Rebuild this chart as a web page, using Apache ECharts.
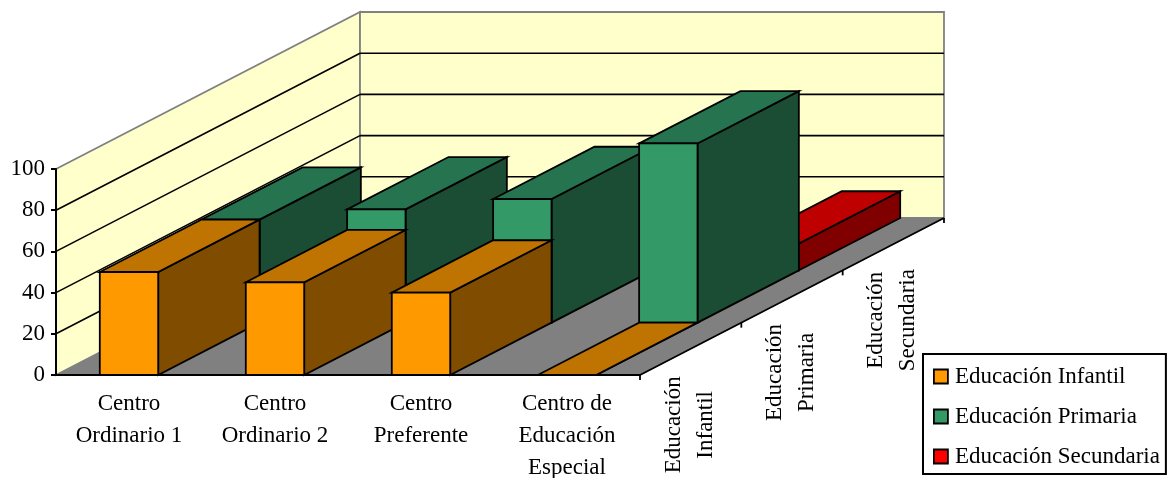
<!DOCTYPE html>
<html>
<head>
<meta charset="utf-8">
<style>html,body{margin:0;padding:0;background:#fff}#chart{width:1170px;height:478px}</style>
<script src="https://cdn.jsdelivr.net/npm/echarts@6/dist/echarts.min.js"></script>
</head>
<body>
<div id="chart"></div>
<script>
// Categories and tick values
const centros = ['Centro\nOrdinario 1', 'Centro\nOrdinario 2', 'Centro\nPreferente', 'Centro de\nEducación\nEspecial'];
const etapas = ['Educación\nInfantil', 'Educación\nPrimaria', 'Educación\nSecundaria'];
const yTicks = [0, 20, 40, 60, 80, 100];

// Percentages per stage
const infantil = [50, 45, 40, 0];
const primaria = [50, 55, 60, 87];
const secundaria = [0, 0, 0, 13];

// Oblique projection: screen shift of one depth row
const ROW_DX = 101.33;
const ROW_DY = -52.33;
const BAR_RATIO = 0.4;
const FONT = '"Liberation Serif", serif';
const FONT_SIZE = 23;

function shift(p, depth) {
  return [p[0] + ROW_DX * depth, p[1] + ROW_DY * depth];
}

function poly(points, fill, stroke, lineWidth) {
  return {
    type: 'polygon',
    shape: { points: points },
    style: { fill: fill, stroke: stroke, lineWidth: lineWidth, lineJoin: 'miter' }
  };
}

function line(a, b, stroke, lineWidth) {
  return {
    type: 'line',
    shape: { x1: a[0], y1: a[1], x2: b[0], y2: b[1] },
    style: { stroke: stroke, lineWidth: lineWidth }
  };
}

// Walls, floor, gridlines and the depth axis
function renderRoom(params, api) {
  const band = api.size([1, 0])[0];
  const depth = etapas.length;
  const xL = api.coord([0, 0])[0] - band / 2;
  const xR = api.coord([centros.length - 1, 0])[0] + band / 2;
  const yAt = v => api.coord([0, v])[1];
  const y0 = yAt(0);
  const yMax = yAt(yTicks[yTicks.length - 1]);
  const gray = '#808080';
  const wall = '#FFFFCC';
  const kids = [];

  const fl = [xL, y0], fr = [xR, y0], tl = [xL, yMax];
  kids.push(poly([fl, fr, shift(fr, depth), shift(fl, depth)], gray, gray, 1));
  kids.push(poly([fl, tl, shift(tl, depth), shift(fl, depth)], wall, gray, 1.8));
  kids.push(poly([shift(fl, depth), shift(tl, depth), shift([xR, yMax], depth), shift(fr, depth)], wall, gray, 1.8));

  yTicks.forEach(v => {
    if (v === 0 || v === yTicks[yTicks.length - 1]) return;
    const a = [xL, yAt(v)];
    const b = shift(a, depth);
    kids.push(line(a, b, '#000', 1.6));
    kids.push(line(b, [b[0] + (xR - xL), b[1]], '#000', 1.6));
  });

  // Depth axis on the right edge of the floor
  kids.push(line(fr, shift(fr, depth), '#000', 1.8));
  for (let d = 0; d <= depth; d++) {
    const p = shift(fr, d);
    kids.push(line(p, [p[0], p[1] + 5], '#000', 1.8));
  }
  etapas.forEach((name, d) => {
    const p = shift(fr, d + 0.5);
    kids.push({
      type: 'text',
      x: p[0] - 1,
      y: p[1] + 76,
      rotation: Math.PI / 2,
      style: {
        text: name,
        fill: '#000',
        font: FONT_SIZE + 'px ' + FONT,
        align: 'center',
        verticalAlign: 'middle',
        lineHeight: 32
      }
    });
  });
  return { type: 'group', children: kids };
}

// One bar occupying a whole depth row: side, top, then front
function barRenderer(row, front, top, side) {
  return function (params, api) {
    const band = api.size([1, 0])[0];
    const w = band * BAR_RATIO;
    const c = api.coord([api.value(0), 0]);
    const t = api.coord([api.value(0), api.value(1)]);
    const bl = shift([c[0] - w / 2, c[1]], row);
    const br = shift([c[0] + w / 2, c[1]], row);
    const tl = shift([t[0] - w / 2, t[1]], row);
    const tr = shift([t[0] + w / 2, t[1]], row);
    const edge = '#000';
    const lw = 1.8;
    return {
      type: 'group',
      children: [
        poly([br, tr, shift(tr, 1), shift(br, 1)], side, edge, lw),
        poly([tl, tr, shift(tr, 1), shift(tl, 1)], top, edge, lw),
        poly([bl, br, tr, tl], front, edge, lw)
      ]
    };
  };
}

function barSeries(name, values, row, front, top, side) {
  return {
    type: 'custom',
    name: name,
    z: 5 - row,
    itemStyle: { color: front },
    encode: { x: 0, y: 1 },
    data: values.map((v, i) => [i, v]),
    renderItem: barRenderer(row, front, top, side)
  };
}

const chart = echarts.init(document.getElementById('chart'));
chart.setOption({
  animation: false,
  backgroundColor: '#fff',
  textStyle: { fontFamily: FONT },
  grid: { left: 56, top: 169, width: 584, height: 206, containLabel: false, outerBoundsMode: 'none' },
  legend: {
    orient: 'vertical',
    left: 923,
    top: 354,
    height: 200,
    padding: [11, 6, 6, 10],
    itemGap: 17,
    itemWidth: 14,
    itemHeight: 14,
    icon: 'rect',
    borderColor: '#000',
    borderWidth: 2,
    backgroundColor: '#fff',
    selectedMode: false,
    itemStyle: { borderColor: '#000', borderWidth: 1.8 },
    textStyle: { fontFamily: FONT, fontSize: FONT_SIZE, color: '#000', height: 22, lineHeight: 22, padding: [0, 0, 0, 2] },
    data: ['Educación Infantil', 'Educación Primaria', 'Educación Secundaria']
  },
  xAxis: {
    type: 'category',
    data: centros,
    z: 10,
    axisLine: { lineStyle: { color: '#000', width: 2 } },
    axisTick: { alignWithLabel: false, length: 5, lineStyle: { color: '#000', width: 2 } },
    axisLabel: { interval: 0, margin: 13, color: '#000', fontFamily: FONT, fontSize: FONT_SIZE, lineHeight: 32, verticalAlign: 'top' },
    splitLine: { show: false }
  },
  yAxis: {
    type: 'value',
    min: 0,
    max: 100,
    interval: 20,
    z: 10,
    axisLine: { show: true, lineStyle: { color: '#000', width: 2 } },
    axisTick: { show: true, length: 5, lineStyle: { color: '#000', width: 2 } },
    axisLabel: { margin: 11, color: '#000', fontFamily: FONT, fontSize: FONT_SIZE },
    splitLine: { show: false }
  },
  series: [
    {
      type: 'custom',
      name: 'room',
      z: 1,
      encode: { x: 0, y: 1 },
      data: [[0, 0]],
      renderItem: renderRoom
    },
    barSeries('Educación Secundaria', secundaria, 2, '#FF0000', '#BF0000', '#800000'),
    barSeries('Educación Primaria', primaria, 1, '#339966', '#267350', '#1A4D33'),
    barSeries('Educación Infantil', infantil, 0, '#FF9900', '#BF7300', '#804D00')
  ]
});
</script>
</body>
</html>
